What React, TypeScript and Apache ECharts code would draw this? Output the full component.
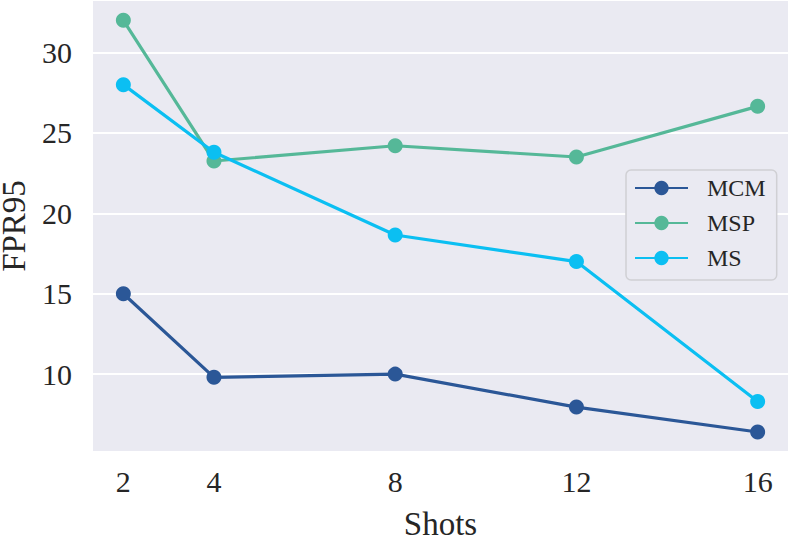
import React, { useEffect, useRef } from "react";
import * as echarts from "echarts";

const shots = [2, 4, 8, 12, 16];
const yTicks = [10, 15, 20, 25, 30];
const mcm = [15.0, 9.8, 10.0, 7.95, 6.4];
const msp = [32.0, 23.25, 24.2, 23.5, 26.65];
const ms = [28.0, 23.8, 18.65, 17.0, 8.3];

const seriesNames = ["MCM", "MSP", "MS"];
const seriesColors = ["#2B5797", "#55B898", "#0BBFF2"];
const seriesValues = [mcm, msp, ms];

const FONT = "'Liberation Serif', 'Times New Roman', serif";

export default function App() {
  const ref = useRef<HTMLDivElement>(null);
  useEffect(() => {
    if (!ref.current) return;
    const chart = echarts.init(ref.current, undefined, { renderer: "svg" });
    chart.setOption({
      animation: false,
      grid: {
        left: 93,
        right: 1,
        top: 1,
        bottom: 91,
        show: true,
        backgroundColor: "#EAEAF2",
        borderWidth: 0,
        containLabel: false,
        outerBoundsMode: "none",
      },
      legend: {
        left: 626,
        top: 170,
        orient: "vertical",
        data: seriesNames,
        itemWidth: 53,
        itemHeight: 18,
        itemGap: 11,
        padding: [6, 11, 10, 8],
        backgroundColor: "#EAEAF2",
        borderColor: "#D0D0D4",
        borderWidth: 1.5,
        borderRadius: 5,
        textStyle: {
          fontFamily: FONT,
          fontSize: 24,
          color: "#262626",
          lineHeight: 24,
          padding: [0, 0, 0, 14],
        },
      },
      xAxis: {
        type: "value",
        min: 1.33,
        max: 16.67,
        name: "Shots",
        nameLocation: "middle",
        nameGap: 56,
        nameTextStyle: { fontFamily: FONT, fontSize: 33, color: "#262626" },
        axisLine: { show: false },
        axisTick: { show: false, customValues: shots },
        axisLabel: {
          customValues: shots,
          fontFamily: FONT,
          fontSize: 30,
          color: "#262626",
          margin: 15,
        },
        splitLine: { show: false },
      },
      yAxis: {
        type: "value",
        min: 5.22,
        max: 33.2,
        name: "FPR95",
        nameLocation: "middle",
        nameGap: 65,
        nameTextStyle: {
          fontFamily: FONT,
          fontSize: 33,
          lineHeight: 28,
          color: "#262626",
        },
        axisLine: { show: false },
        axisTick: { show: false, customValues: yTicks },
        axisLabel: {
          customValues: yTicks,
          fontFamily: FONT,
          fontSize: 30,
          color: "#262626",
          margin: 21,
        },
        splitLine: { show: true, lineStyle: { color: "#FFFFFF", width: 2 } },
      },
      series: seriesNames.map((name, i) => ({
        name,
        type: "line",
        data: shots.map((s, j) => [s, seriesValues[i][j]]),
        symbol: "circle",
        symbolSize: 15,
        lineStyle: { color: seriesColors[i], width: 3.2 },
        itemStyle: { color: seriesColors[i] },
        emphasis: { disabled: true },
        z: 2 + i,
      })),
    });
    return () => chart.dispose();
  }, []);
  return (
    <div
      ref={ref}
      style={{ position: "absolute", left: 0, top: 0, width: 789, height: 542 }}
    />
  );
}
